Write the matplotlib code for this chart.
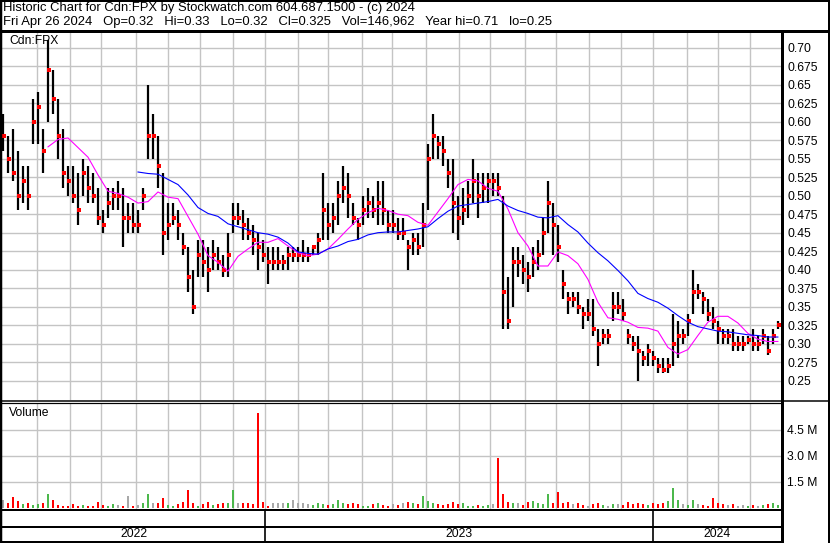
import numpy as np
import pandas as pd
import matplotlib
matplotlib.use("Agg")
import matplotlib.pyplot as plt
from matplotlib.lines import Line2D

plt.rcParams['font.family'] = ['Liberation Sans', 'DejaVu Sans']

W, H = 830, 543

# data (roughly 3 trading days per bar)
start_date = "2022-04-29"
end_date = "2024-04-26"

highs = [0.61, 0.58, 0.59, 0.56, 0.54, 0.54, 0.63, 0.64, 0.59, 0.71,
         0.67, 0.63, 0.59, 0.54, 0.54, 0.53, 0.55, 0.54, 0.53, 0.51,
         0.48, 0.51, 0.51, 0.52, 0.51, 0.49, 0.49, 0.48, 0.51, 0.65,
         0.61, 0.58, 0.53, 0.49, 0.49, 0.48, 0.45, 0.43, 0.40, 0.44,
         0.44, 0.43, 0.44, 0.43, 0.42, 0.45, 0.49, 0.49, 0.48, 0.47,
         0.46, 0.45, 0.44, 0.43, 0.43, 0.43, 0.42, 0.43, 0.43, 0.43,
         0.44, 0.43, 0.43, 0.45, 0.53, 0.49, 0.49, 0.52, 0.54, 0.53,
         0.49, 0.47, 0.50, 0.51, 0.50, 0.52, 0.52, 0.48, 0.48, 0.47,
         0.47, 0.44, 0.45, 0.45, 0.49, 0.57, 0.61, 0.58, 0.58, 0.55,
         0.55, 0.50, 0.51, 0.52, 0.55, 0.53, 0.53, 0.53, 0.53, 0.53,
         0.50, 0.39, 0.43, 0.43, 0.42, 0.41, 0.43, 0.44, 0.47, 0.52,
         0.49, 0.46, 0.40, 0.37, 0.37, 0.37, 0.35, 0.36, 0.36, 0.32,
         0.32, 0.32, 0.37, 0.37, 0.36, 0.32, 0.31, 0.31, 0.29, 0.30,
         0.29, 0.28, 0.28, 0.28, 0.34, 0.33, 0.32, 0.34, 0.40, 0.38,
         0.37, 0.36, 0.35, 0.33, 0.32, 0.32, 0.32, 0.31, 0.31, 0.31,
         0.32, 0.31, 0.32, 0.31, 0.32, 0.33]

lows = [0.56, 0.53, 0.52, 0.48, 0.49, 0.48, 0.57, 0.57, 0.53, 0.60,
        0.61, 0.55, 0.51, 0.50, 0.49, 0.46, 0.50, 0.49, 0.49, 0.46,
        0.45, 0.47, 0.48, 0.48, 0.43, 0.45, 0.45, 0.45, 0.48, 0.55,
        0.55, 0.51, 0.42, 0.44, 0.46, 0.44, 0.42, 0.37, 0.34, 0.39,
        0.39, 0.37, 0.40, 0.40, 0.39, 0.39, 0.45, 0.46, 0.44, 0.44,
        0.42, 0.40, 0.41, 0.38, 0.40, 0.40, 0.40, 0.40, 0.41, 0.41,
        0.41, 0.41, 0.42, 0.42, 0.44, 0.44, 0.45, 0.46, 0.49, 0.47,
        0.46, 0.44, 0.46, 0.47, 0.47, 0.46, 0.46, 0.45, 0.45, 0.44,
        0.44, 0.40, 0.42, 0.42, 0.43, 0.48, 0.55, 0.55, 0.54, 0.51,
        0.45, 0.44, 0.46, 0.47, 0.49, 0.47, 0.49, 0.49, 0.50, 0.50,
        0.32, 0.32, 0.35, 0.39, 0.38, 0.37, 0.39, 0.40, 0.42, 0.45,
        0.42, 0.41, 0.36, 0.34, 0.35, 0.34, 0.32, 0.33, 0.31, 0.27,
        0.30, 0.30, 0.33, 0.34, 0.33, 0.30, 0.29, 0.25, 0.27, 0.27,
        0.27, 0.26, 0.26, 0.26, 0.27, 0.28, 0.30, 0.31, 0.34, 0.36,
        0.34, 0.33, 0.32, 0.30, 0.30, 0.30, 0.29, 0.29, 0.29, 0.30,
        0.29, 0.29, 0.30, 0.285, 0.30, 0.32]

closes = [0.58, 0.55, 0.53, 0.50, 0.52, 0.50, 0.60, 0.62, 0.56, 0.67,
          0.63, 0.58, 0.53, 0.52, 0.50, 0.48, 0.53, 0.51, 0.50, 0.47,
          0.46, 0.49, 0.50, 0.50, 0.47, 0.47, 0.46, 0.46, 0.50, 0.58,
          0.58, 0.54, 0.45, 0.46, 0.47, 0.46, 0.43, 0.39, 0.35, 0.42,
          0.41, 0.40, 0.42, 0.41, 0.40, 0.42, 0.47, 0.47, 0.46, 0.45,
          0.44, 0.43, 0.42, 0.41, 0.41, 0.41, 0.41, 0.42, 0.42, 0.42,
          0.42, 0.42, 0.43, 0.44, 0.48, 0.46, 0.47, 0.50, 0.51, 0.50,
          0.47, 0.46, 0.48, 0.49, 0.48, 0.49, 0.48, 0.46, 0.46, 0.45,
          0.45, 0.43, 0.44, 0.43, 0.46, 0.55, 0.58, 0.57, 0.56, 0.53,
          0.49, 0.47, 0.48, 0.50, 0.52, 0.50, 0.51, 0.52, 0.52, 0.51,
          0.37, 0.33, 0.41, 0.41, 0.40, 0.39, 0.41, 0.42, 0.45, 0.49,
          0.46, 0.43, 0.38, 0.36, 0.36, 0.35, 0.34, 0.34, 0.32, 0.30,
          0.31, 0.31, 0.35, 0.35, 0.34, 0.31, 0.30, 0.29, 0.28, 0.29,
          0.28, 0.27, 0.265, 0.27, 0.30, 0.31, 0.31, 0.33, 0.37, 0.37,
          0.36, 0.34, 0.33, 0.32, 0.31, 0.31, 0.30, 0.30, 0.30, 0.305,
          0.30, 0.30, 0.31, 0.29, 0.31, 0.325]

# volume in millions
volumes = [0.45, 0.30, 0.60, 0.40, 0.20, 0.25, 0.15, 0.20, 0.25, 0.80,
           0.45, 0.15, 0.10, 0.12, 0.20, 0.10, 0.15, 0.10, 0.12, 0.35,
           0.15, 0.10, 0.20, 0.15, 0.10, 0.70, 0.10, 0.15, 0.25, 0.80,
           0.30, 0.25, 0.55, 0.15, 0.10, 0.20, 0.35, 1.05, 0.30, 0.12,
           0.20, 0.35, 0.15, 0.20, 0.30, 0.30, 1.05, 0.30, 0.25, 0.30,
           0.20, 5.50, 0.35, 0.12, 0.25, 0.30, 0.30, 0.25, 0.45, 0.30,
           0.25, 0.20, 0.15, 0.25, 0.20, 0.15, 0.20, 0.45, 0.25, 0.20,
           0.25, 0.20, 0.10, 0.12, 0.20, 0.25, 0.15, 0.10, 0.20, 0.15,
           0.25, 0.35, 0.25, 0.20, 0.70, 0.40, 0.30, 0.20, 0.15, 0.20,
           0.35, 0.20, 0.30, 0.10, 0.10, 0.15, 0.10, 0.15, 0.20, 2.85,
           0.80, 0.35, 0.30, 0.25, 0.15, 0.35, 0.40, 0.25, 0.20, 0.80,
           0.30, 0.90, 0.30, 0.35, 0.20, 0.25, 0.15, 0.10, 0.20, 0.25,
           0.15, 0.10, 0.20, 0.20, 0.15, 0.35, 0.20, 0.25, 0.20, 0.15,
           0.25, 0.20, 0.30, 0.40, 1.15, 0.45, 0.20, 0.15, 0.45, 0.20,
           0.15, 0.10, 0.55, 0.30, 0.20, 0.15, 0.20, 0.10, 0.15, 0.10,
           0.15, 0.10, 0.15, 0.20, 0.30, 0.15]

# moving averages, one value every second bar
ma_short_start = 9
ma_short = [0.566, 0.576, 0.578, 0.565, 0.552, 0.528, 0.506, 0.503, 0.498, 0.490,
            0.492, 0.505, 0.498, 0.496, 0.472, 0.448, 0.419, 0.410, 0.398, 0.418,
            0.428, 0.437, 0.437, 0.442, 0.432, 0.423, 0.419, 0.421, 0.428, 0.441,
            0.455, 0.468, 0.477, 0.483, 0.480, 0.475, 0.473, 0.464, 0.460, 0.478,
            0.496, 0.515, 0.522, 0.520, 0.510, 0.506, 0.482, 0.450, 0.432, 0.405,
            0.405, 0.424, 0.419, 0.408, 0.387, 0.356, 0.335, 0.333, 0.329, 0.322,
            0.321, 0.317, 0.295, 0.286, 0.292, 0.311, 0.329, 0.337, 0.337, 0.328,
            0.314, 0.306, 0.303, 0.303]

ma_long_start = 27
ma_long = [0.532, 0.530, 0.529, 0.522, 0.515, 0.501, 0.484, 0.476, 0.472, 0.462,
           0.458, 0.454, 0.450, 0.448, 0.444, 0.436, 0.424, 0.422, 0.421, 0.428,
           0.432, 0.438, 0.441, 0.447, 0.450, 0.451, 0.451, 0.453, 0.455, 0.458,
           0.469, 0.479, 0.486, 0.488, 0.490, 0.492, 0.495, 0.486, 0.480, 0.476,
           0.471, 0.470, 0.473, 0.461, 0.451, 0.436, 0.423, 0.412, 0.399, 0.385,
           0.368, 0.361, 0.356, 0.348, 0.338, 0.329, 0.323, 0.320, 0.317, 0.316,
           0.314, 0.312, 0.311, 0.309, 0.309]

price_ticks = [0.25, 0.275, 0.30, 0.325, 0.35, 0.375, 0.40, 0.425, 0.45, 0.475,
               0.50, 0.525, 0.55, 0.575, 0.60, 0.625, 0.65, 0.675, 0.70]
price_labels = ["0.25", "0.275", "0.30", "0.325", "0.35", "0.375", "0.40", "0.425", "0.45", "0.475",
                "0.50", "0.525", "0.55", "0.575", "0.60", "0.625", "0.65", "0.675", "0.70"]
vol_ticks = [1.5, 3.0, 4.5]
vol_labels = ["1.5 M", "3.0 M", "4.5 M"]
years = ["2022", "2023", "2024"]

title1 = "Historic Chart for Cdn:FPX by Stockwatch.com 604.687.1500 - (c) 2024"
title2 = "Fri Apr 26 2024   Op=0.32   Hi=0.33   Lo=0.32   Cl=0.325   Vol=146,962   Year hi=0.71   lo=0.25"


def box(x0, y0, x1, y1):
    return [x0 / W, 1 - y1 / H, (x1 - x0) / W, (y1 - y0) / H]


def line(fig, xs, ys, lw):
    fig.add_artist(Line2D([x / W for x in xs], [1 - y / H for y in ys],
                          color="black", linewidth=lw * 0.72,
                          transform=fig.transFigure, solid_capstyle="butt"))


n_days = int(np.busday_count(start_date, end_date)) + 1
bar_x = np.linspace(0, n_days - 1, len(highs))
months = pd.date_range("2022-06-01", "2024-04-01", freq="MS")
month_x = np.busday_count(start_date, months.values.astype("datetime64[D]"))
year_x = np.busday_count(start_date, np.array(["2023-01-01", "2024-01-01"], dtype="datetime64[D]"))
xlim = (-0.7, n_days + 1.1)

fig = plt.figure(figsize=(W / 100, H / 100), dpi=100)
fig.patch.set_facecolor("white")

grid_kw = dict(color="#c4c4c4", linewidth=1.0)

# price panel
ax = fig.add_axes(box(2, 32, 781, 400))
ax.vlines(bar_x, lows, highs, color="black", linewidth=1.6)
ax.plot(bar_x + 0.7, closes, "s", color="red", markersize=2.2, markeredgewidth=0)
ax.plot(bar_x[ma_short_start::2], ma_short, color="#ff00ff", linewidth=0.8)
ax.plot(bar_x[ma_long_start::2], ma_long, color="#0000ff", linewidth=0.8)
ax.set_xlim(*xlim)
ax.set_ylim(0.2239, 0.7212)
ax.set_xticks(month_x)
ax.set_xticklabels([])
ax.set_yticks(price_ticks)
ax.set_yticklabels(price_labels)
ax.yaxis.tick_right()
ax.tick_params(axis="both", length=0, labelsize=8.7, pad=4.5)
for lab in ax.get_yticklabels():
    lab.set_horizontalalignment("left")
ax.grid(True, **grid_kw)
ax.set_axisbelow(True)
for s in ax.spines.values():
    s.set_visible(False)
ax.text(7 / 779, 1 - 9 / 368, "Cdn:FPX", transform=ax.transAxes, fontsize=8.7,
        va="center", ha="left")

# volume panel
axv = fig.add_axes(box(2, 403, 781, 509.5))
colors = []
for i, c in enumerate(closes):
    if i == 0 or c == closes[i - 1]:
        colors.append("#a8a8a8")
    elif c > closes[i - 1]:
        colors.append("#4cb84c")
    else:
        colors.append("#ff0000")
axv.bar(bar_x, volumes, width=1.3, color=colors, linewidth=0)
axv.set_xlim(*xlim)
axv.set_ylim(-0.1, 6.05)
axv.set_xticks(month_x)
axv.set_xticklabels([])
axv.set_yticks(vol_ticks)
axv.set_yticklabels(vol_labels)
axv.yaxis.tick_right()
axv.tick_params(axis="both", length=0, labelsize=8.7, pad=4.5)
for lab in axv.get_yticklabels():
    lab.set_horizontalalignment("left")
axv.grid(True, **grid_kw)
axv.set_axisbelow(True)
for s in axv.spines.values():
    s.set_visible(False)
axv.text(7 / 779, 1 - 10 / 106.5, "Volume", transform=axv.transAxes, fontsize=8.7,
         va="center", ha="left")

# date band
axd = fig.add_axes(box(2, 510, 781, 542))
axd.set_xlim(*xlim)
axd.set_ylim(0, 1)
axd.axis("off")
axd.vlines(year_x, 0, 1, color="black", linewidth=1.2)
edges = [xlim[0]] + list(year_x) + [xlim[1]]
for i, y in enumerate(years):
    axd.text((edges[i] + edges[i + 1]) / 2, 0.24, y, ha="center", va="center", fontsize=8.7)

# frame lines
line(fig, [0, W], [0.8, 0.8], 2)
line(fig, [0, W], [30.5, 30.5], 3)
line(fig, [1, 1], [0, H], 2.5)
line(fig, [782, 782], [30, H], 3)
line(fig, [W - 1, W - 1], [0, H], 2)
line(fig, [0, W], [400.8, 400.8], 1.5)
line(fig, [0, 782], [402.8, 402.8], 1.2)
line(fig, [0, 782], [510, 510], 2)
line(fig, [0, 782], [527, 527], 2)
line(fig, [0, 782], [542.2, 542.2], 2)

fig.text(3 / W, 1 - 8 / H, title1, fontsize=9.4, va="center", ha="left")
fig.text(3 / W, 1 - 21.5 / H, title2, fontsize=9.4, va="center", ha="left")

fig.savefig("out.png", dpi=100)
